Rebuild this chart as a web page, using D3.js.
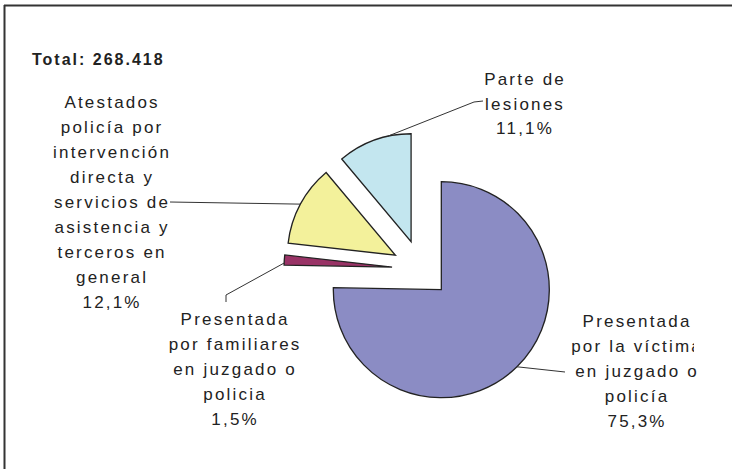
<!DOCTYPE html>
<html>
<head>
<meta charset="utf-8">
<script src="https://cdn.jsdelivr.net/npm/d3@7/dist/d3.min.js"></script>
<style>
  body { margin: 0; background: #fff; }
  text { font-family: "Liberation Sans", Arial, sans-serif; fill: #222; }
</style>
</head>
<body>
<div id="chart"></div>
<script>
// data, in pie order (clockwise from 12 o'clock)
const categories = [
  "Presentada por la víctima en juzgado o policía",
  "Presentada por familiares en juzgado o policia",
  "Atestados policía por intervención directa y servicios de asistencia y terceros en general",
  "Parte de lesiones"
]
const shares = [75.3, 1.5, 12.1, 11.1]
const colors = ["#8B8CC4", "#993366", "#F3F19B", "#C3E6EF"]
const labelLines = [
  ["Presentada", "por la víctima", "en juzgado o", "policía"],
  ["Presentada", "por familiares", "en juzgado o", "policia"],
  ["Atestados", "policía por", "intervención", "directa y", "servicios de", "asistencia y", "terceros en", "general"],
  ["Parte de", "lesiones"]
]
const total = 268418

const es = d3.formatLocale({ decimal: ",", thousands: ".", grouping: [3], currency: ["", " €"] })
const fmtPct = es.format(".1f")
const fmtTotal = es.format(",d")

// layout
const width = 732
const height = 469
const cx = 421
const cy = 269
const radius = 108
const explode = 29
const fontSize = 17
const spacing = 2.2

// label boxes: centre x, first baseline, line height, where the leader meets the slice, leader bends
const labelLayout = [
  { x: 636, y: 327, lh: 25, t: 0.5, pts: [[565, 372]], clip: { line: 1, x: 694 } },
  { x: 234, y: 325, lh: 25, t: 0.2, pts: [[226, 295], [226, 302]] },
  { x: 111, y: 108, lh: 25, t: 0.5, pts: [[170, 202]] },
  { x: 524, y: 85, lh: 24.5, t: 0.68, pts: [[474, 102], [483, 101]] }
]

const svg = d3.select('#chart').append('svg')
  .attr('width', width)
  .attr('height', height)

// frame (only top and left edges show)
svg.append('line')
  .attr('x1', 4).attr('y1', 5.5).attr('x2', width).attr('y2', 5.5)
  .attr('stroke', '#333').attr('stroke-width', 2)
svg.append('line')
  .attr('x1', 4.5).attr('y1', 5).attr('x2', 4.5).attr('y2', height)
  .attr('stroke', '#333').attr('stroke-width', 2)

const pie = d3.pie().sort(null).value(d => d)
const arcs = pie(shares)
const arc = d3.arc().innerRadius(0).outerRadius(radius)

const point = (a, r) => [Math.sin(a) * r, -Math.cos(a) * r]

const slices = svg.append('g')
  .selectAll('g')
  .data(arcs)
  .join('g')
  .attr('transform', d => {
    const [ox, oy] = point((d.startAngle + d.endAngle) / 2, explode)
    return `translate(${cx + ox}, ${cy + oy})`
  })

slices.append('path')
  .attr('d', arc)
  .attr('fill', (d, i) => colors[i])
  .attr('stroke', '#222')
  .attr('stroke-width', 1.3)
  .attr('stroke-linejoin', 'miter')

// leader lines
arcs.forEach((d, i) => {
  const lay = labelLayout[i]
  const mid = (d.startAngle + d.endAngle) / 2
  const [ox, oy] = point(mid, explode)
  const a = d.startAngle + (d.endAngle - d.startAngle) * lay.t
  const [ax, ay] = point(a, radius)
  const pts = [[cx + ox + ax, cy + oy + ay]].concat(lay.pts)
  svg.append('path')
    .attr('d', d3.line()(pts))
    .attr('fill', 'none')
    .attr('stroke', '#333')
    .attr('stroke-width', 1)
})

// labels
labelLines.forEach((lines, i) => {
  const lay = labelLayout[i]
  const all = lines.concat([fmtPct(shares[i]) + '%'])
  all.forEach((line, j) => {
    const txt = svg.append('text')
      .attr('x', lay.x + spacing / 2)
      .attr('y', lay.y + j * lay.lh)
      .attr('text-anchor', 'middle')
      .style('font-size', fontSize + 'px')
      .style('letter-spacing', spacing + 'px')
      .text(line)
    if (lay.clip && lay.clip.line === j) {
      const id = 'clip' + i
      svg.append('clipPath').attr('id', id)
        .append('rect')
        .attr('x', 0).attr('y', 0)
        .attr('width', lay.clip.x).attr('height', height)
      txt.attr('clip-path', `url(#${id})`)
    }
  })
})

svg.append('text')
  .attr('x', 32)
  .attr('y', 65)
  .style('font-size', '16px')
  .style('font-weight', 'bold')
  .style('letter-spacing', '2px')
  .text('Total: ' + fmtTotal(total))
</script>
</body>
</html>
